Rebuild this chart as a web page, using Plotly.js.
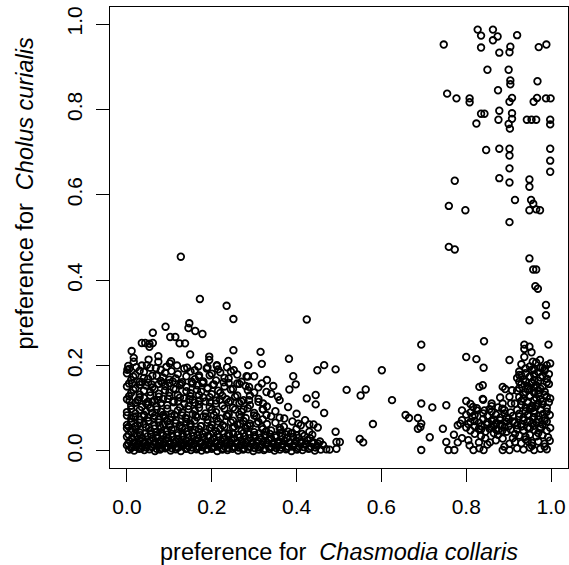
<!DOCTYPE html>
<html>
<head>
<meta charset="utf-8">
<script src="https://cdn.plot.ly/plotly-3.0.1.min.js"></script>
<style>html,body{margin:0;padding:0;background:#fff;}#chart{width:569px;height:565px;}</style>
</head>
<body>
<div id="chart"></div>
<script>
// Preference for Chasmodia collaris (x) vs preference for Cholus curialis (y)

// upper-right group
const upperRightX = [0.827,0.835,0.863,0.874,0.863,0.920,0.747,0.835,0.904,0.878,0.902,0.971,0.989,0.850,0.900,0.904,0.904,0.968,0.875,0.755,0.777,0.808,0.808,0.908,0.902,0.967,0.959,0.988,0.999,0.835,0.843,0.878,0.908,0.824,0.876,0.908,0.900,0.903,0.943,0.954,0.965,0.998,0.998,0.847,0.878,0.902,0.902,0.998,0.998,0.998,0.902,0.773,0.878,0.902,0.949,0.949,0.915,0.953,0.958,0.949,0.965,0.974,0.759,0.798,0.902,0.759,0.773,0.949,0.958,0.965,0.963,0.969,0.988,0.988,0.949];
const upperRightY = [0.987,0.973,0.987,0.971,0.962,0.974,0.952,0.945,0.947,0.933,0.934,0.946,0.952,0.893,0.893,0.868,0.859,0.866,0.845,0.837,0.826,0.826,0.817,0.827,0.818,0.827,0.818,0.826,0.826,0.790,0.790,0.797,0.791,0.767,0.776,0.778,0.766,0.755,0.776,0.776,0.776,0.776,0.765,0.705,0.708,0.708,0.692,0.708,0.680,0.654,0.662,0.633,0.639,0.629,0.636,0.619,0.588,0.588,0.579,0.564,0.566,0.564,0.574,0.564,0.536,0.478,0.472,0.451,0.425,0.425,0.386,0.380,0.342,0.318,0.306];

// right-hand sparse points (lower half)
const rightSparseX = [0.694,0.994,0.937,0.937,0.949,0.954,0.937,0.842,0.800,0.824,0.841,0.902,0.957,0.974,0.998,0.694,0.492,0.601,0.518,0.551,0.563,0.625,0.580,0.492,0.494,0.502,0.478,0.494,0.549,0.557,0.657,0.665,0.686,0.692,0.686,0.694,0.694,0.720,0.753,0.714,0.694,0.745,0.753,0.758,0.772,0.771,0.780,0.786,0.800,0.808,0.817,0.831,0.841,0.856,0.886,0.886,0.902,0.902,0.816,0.820,0.831,0.839,0.839,0.843,0.860,0.886,0.892,0.908,0.902,0.925,0.925,0.886,0.906,0.885];
const rightSparseY = [0.249,0.249,0.249,0.239,0.244,0.231,0.220,0.257,0.220,0.215,0.195,0.213,0.209,0.213,0.205,0.196,0.191,0.189,0.143,0.130,0.144,0.119,0.063,0.045,0.021,0.021,0.003,0.005,0.028,0.020,0.084,0.077,0.077,0.056,0.052,0.064,0.111,0.102,0.107,0.032,0.002,0.052,0.021,0.002,0.002,0.038,0.020,0.064,0.117,0.013,0.002,0.006,0.002,0.020,0.029,0.002,0.002,0.017,0.103,0.084,0.150,0.154,0.122,0.095,0.111,0.150,0.145,0.142,0.127,0.178,0.162,0.111,0.111,0.099];

// right-middle band
const rightBandX = [0.78,0.79,0.80,0.81,0.815,0.82,0.83,0.835,0.84,0.85,0.855,0.86,0.865,0.87,0.875,0.88,0.885,0.89,0.895,0.80,0.81,0.825,0.84,0.85,0.86,0.87,0.88,0.89,0.90,0.91,0.82,0.835,0.845,0.865,0.875,0.895,0.905,0.915,0.79,0.805,0.83,0.85,0.87,0.89,0.91,0.92,0.81,0.84,0.86,0.88,
 0.805,0.82,0.835,0.85,0.865,0.88,0.895,0.91,0.81,0.83,0.845,0.86,0.87,0.885,0.90,0.79,0.825,0.855,0.875,0.89,0.905];
const rightBandY = [0.060,0.072,0.055,0.068,0.080,0.058,0.066,0.050,0.075,0.062,0.052,0.070,0.058,0.065,0.048,0.072,0.060,0.055,0.068,0.085,0.090,0.095,0.088,0.082,0.092,0.085,0.078,0.088,0.075,0.082,0.040,0.035,0.030,0.042,0.038,0.045,0.050,0.040,0.030,0.025,0.020,0.015,0.025,0.010,0.030,0.060,0.110,0.120,0.105,0.125,
 0.063,0.070,0.058,0.067,0.074,0.061,0.078,0.069,0.048,0.052,0.045,0.056,0.050,0.047,0.058,0.095,0.100,0.098,0.102,0.096,0.090];

// right dense column
const rightColumnX = [0.93,0.95,0.965,0.98,0.99, 0.925,0.94,0.955,0.97,0.985,0.995, 0.92,0.935,0.95,0.96,0.975,0.99, 0.93,0.945,0.955,0.965,0.98,0.995, 0.92,0.94,0.95,0.96,0.97,0.985, 0.925,0.935,0.95,0.965,0.975,0.99,0.998, 0.915,0.93,0.945,0.955,0.97,0.98,0.995, 0.92,0.94,0.95,0.96,0.975,0.99, 0.925,0.935,0.945,0.96,0.97,0.985,0.997, 0.915,0.93,0.945,0.955,0.965,0.98,0.99, 0.92,0.935,0.95,0.96,0.975,0.99,0.998, 0.925,0.94,0.95,0.965,0.98,0.993, 0.915,0.93,0.945,0.955,0.97,0.985,0.997, 0.92,0.935,0.95,0.96,0.975,0.99,
 0.94,0.96,0.975,0.985, 0.93,0.95,0.96,0.98, 0.94,0.955,0.97,0.99, 0.925,0.945,0.96,0.975, 0.935,0.95,0.97,0.985, 0.93,0.945,0.96,0.98, 0.94,0.955,0.965,0.99, 0.925,0.945,0.96,0.98, 0.935,0.95,0.97,0.985, 0.93,0.945,0.96,0.975, 0.94,0.955,0.97,0.985];
const rightColumnY = [0.203,0.198,0.207,0.195,0.201, 0.186,0.182,0.190,0.184,0.188,0.180, 0.171,0.168,0.174,0.166,0.172,0.169, 0.156,0.152,0.158,0.154,0.150,0.157, 0.141,0.138,0.143,0.136,0.142,0.139, 0.126,0.122,0.128,0.124,0.121,0.127,0.123, 0.111,0.108,0.113,0.106,0.112,0.109,0.114, 0.096,0.093,0.098,0.094,0.097,0.092, 0.081,0.078,0.083,0.079,0.082,0.077,0.084, 0.066,0.063,0.068,0.064,0.067,0.062,0.069, 0.051,0.048,0.053,0.049,0.052,0.047,0.054, 0.036,0.033,0.038,0.034,0.037,0.032, 0.021,0.018,0.023,0.019,0.022,0.017,0.024, 0.006,0.003,0.008,0.002,0.005,0.004,
 0.193,0.190,0.195,0.192, 0.177,0.174,0.179,0.176, 0.162,0.160,0.164,0.161, 0.147,0.145,0.149,0.146, 0.132,0.130,0.134,0.131, 0.117,0.115,0.119,0.116, 0.102,0.100,0.104,0.101, 0.087,0.085,0.089,0.086, 0.072,0.070,0.074,0.071, 0.057,0.055,0.059,0.056, 0.027,0.012,0.042,0.010];

// lower-left sparse points
const leftSparseX = [0.127,0.172,0.235,0.251,0.424,0.147,0.145,0.161,0.178,0.061,0.091,0.102,0.114,0.124,0.137,0.035,0.043,0.053,0.061,0.053,0.011,0.149,0.251,0.315,0.318,0.382,0.449,0.465,0.016,0.016,0.001,0.035,0.051,0.074,0.074,0.104,0.101,0.194,0.194,0.212,0.239,0.252,0.286,0.392,0.398,0.383,0.345,0.329,0.356,0.318,0.288,0.288,0.282,0.424,0.445,0.445,0.465,0.380,0.371,0.404,0.430,0.362,0.380,0.321,0.321,0.329,0.275,0.267,0.290,0.306,0.328];
const leftSparseY = [0.455,0.356,0.340,0.309,0.308,0.299,0.288,0.281,0.274,0.277,0.291,0.267,0.267,0.252,0.252,0.253,0.253,0.251,0.253,0.244,0.234,0.226,0.236,0.232,0.204,0.216,0.189,0.201,0.218,0.209,0.190,0.200,0.214,0.222,0.209,0.210,0.205,0.221,0.213,0.201,0.211,0.189,0.201,0.175,0.156,0.144,0.152,0.138,0.127,0.158,0.150,0.119,0.175,0.123,0.131,0.109,0.089,0.103,0.076,0.064,0.062,0.050,0.045,0.111,0.097,0.084,0.097,0.064,0.064,0.064,0.046];

// lower-left mid block
const leftMidX = [0.00,0.02,0.04,0.07,0.09,0.12,0.15,0.17,0.20,0.22,0.26,0.30,
 0.01,0.03,0.05,0.08,0.10,0.13,0.16,0.18,0.21,0.24,0.27,0.33,
 0.00,0.02,0.045,0.06,0.09,0.11,0.14,0.165,0.19,0.23,0.25,0.28,0.31,
 0.01,0.03,0.055,0.075,0.10,0.12,0.15,0.175,0.20,0.22,0.26,0.30,0.34,
 0.00,0.025,0.04,0.065,0.085,0.11,0.135,0.155,0.18,0.21,0.235,0.27,0.31,0.36,
 0.01,0.035,0.05,0.07,0.095,0.125,0.145,0.17,0.195,0.225,0.25,0.29,0.33,
 0.00,0.02,0.045,0.06,0.08,0.105,0.13,0.16,0.185,0.21,0.24,0.27,0.30,0.35,0.40,
 0.01,0.03,0.05,0.075,0.09,0.115,0.14,0.165,0.19,0.22,0.25,0.28,0.32,0.36,0.42,
 0.00,0.02,0.04,0.065,0.085,0.10,0.125,0.15,0.175,0.20,0.23,0.26,0.29,0.33,0.37,0.41,0.44,
 0.01,0.03,0.055,0.07,0.095,0.12,0.14,0.16,0.185,0.21,0.24,0.27,0.30,0.34,0.39,0.43];
const leftMidY = [0.182,0.178,0.185,0.176,0.183,0.180,0.186,0.177,0.181,0.184,0.179,0.175,
 0.166,0.162,0.169,0.164,0.167,0.161,0.168,0.163,0.165,0.170,0.162,0.166,
 0.151,0.147,0.153,0.149,0.152,0.146,0.150,0.154,0.148,0.151,0.145,0.152,0.149,
 0.136,0.132,0.138,0.134,0.137,0.131,0.135,0.139,0.133,0.136,0.130,0.137,0.134,
 0.121,0.118,0.124,0.119,0.122,0.117,0.123,0.120,0.125,0.118,0.121,0.116,0.122,0.119,
 0.106,0.103,0.108,0.104,0.107,0.102,0.105,0.109,0.103,0.106,0.101,0.107,0.104,
 0.091,0.088,0.093,0.089,0.092,0.087,0.090,0.094,0.088,0.091,0.086,0.092,0.089,0.093,0.087,
 0.076,0.073,0.078,0.074,0.077,0.072,0.075,0.079,0.073,0.076,0.071,0.077,0.074,0.078,0.072,
 0.061,0.058,0.063,0.059,0.062,0.057,0.060,0.064,0.058,0.061,0.056,0.062,0.059,0.063,0.057,0.060,0.062,
 0.046,0.043,0.048,0.044,0.047,0.042,0.045,0.049,0.043,0.046,0.041,0.047,0.044,0.048,0.042,0.045];

// lower-left mid block, second layer
const leftMid2X = [0.005,0.03,0.055,0.08,0.105,0.135,0.16,0.19,0.215,0.245,
 0.015,0.04,0.06,0.085,0.115,0.14,0.17,0.195,0.23,0.285,
 0.005,0.03,0.05,0.075,0.10,0.125,0.155,0.18,0.205,0.24,0.265,
 0.015,0.04,0.065,0.09,0.115,0.14,0.165,0.19,0.215,0.245,0.285,
 0.005,0.03,0.055,0.075,0.10,0.125,0.15,0.17,0.195,0.225,0.255,0.29,
 0.02,0.045,0.06,0.08,0.11,0.135,0.16,0.185,0.21,0.24,0.265,0.31,
 0.01,0.03,0.055,0.07,0.095,0.12,0.145,0.17,0.20,0.23,0.255,0.285,0.32,
 0.00,0.02,0.04,0.065,0.085,0.105,0.13,0.155,0.18,0.205,0.235,0.265,0.30,0.34,
 0.01,0.03,0.05,0.075,0.095,0.115,0.14,0.16,0.19,0.215,0.245,0.275,0.31,0.35,0.39,
 0.00,0.02,0.045,0.065,0.08,0.105,0.13,0.15,0.17,0.195,0.22,0.25,0.28,0.32,0.36,0.40,0.45];
const leftMid2Y = [0.192,0.188,0.195,0.190,0.187,0.193,0.189,0.196,0.191,0.186,
 0.174,0.171,0.176,0.172,0.170,0.175,0.173,0.177,0.171,0.174,
 0.158,0.155,0.160,0.157,0.159,0.154,0.158,0.161,0.156,0.159,0.157,
 0.143,0.141,0.145,0.142,0.144,0.140,0.143,0.146,0.141,0.144,0.142,
 0.128,0.126,0.130,0.127,0.129,0.125,0.128,0.131,0.126,0.129,0.127,0.130,
 0.113,0.111,0.115,0.112,0.114,0.110,0.113,0.116,0.111,0.114,0.112,0.115,
 0.098,0.096,0.100,0.097,0.099,0.095,0.098,0.101,0.096,0.099,0.097,0.100,0.098,
 0.083,0.081,0.085,0.082,0.084,0.080,0.083,0.086,0.081,0.084,0.082,0.085,0.083,0.081,
 0.068,0.066,0.070,0.067,0.069,0.065,0.068,0.071,0.066,0.069,0.067,0.070,0.068,0.066,0.069,
 0.053,0.051,0.055,0.052,0.054,0.050,0.053,0.056,0.051,0.054,0.052,0.055,0.053,0.051,0.054,0.052,0.055];

// lower-left mid block, third layer
const leftMid3X = [0.003,0.022,0.047,0.068,0.093,0.118,0.142,0.168,0.188,0.212,0.236,
 0.012,0.036,0.058,0.083,0.108,0.128,0.153,0.178,0.203,0.228,0.26,
 0.006,0.027,0.049,0.072,0.097,0.121,0.147,0.171,0.196,0.219,0.244,0.275,
 0.016,0.041,0.063,0.087,0.112,0.138,0.162,0.186,0.211,0.237,0.268,0.305,
 0.004,0.025,0.052,0.077,0.101,0.124,0.149,0.174,0.199,0.226,0.253,0.284,0.318];
const leftMid3Y = [0.199,0.196,0.201,0.194,0.197,0.200,0.195,0.198,0.193,0.199,0.196,
 0.158,0.161,0.156,0.160,0.163,0.157,0.162,0.159,0.155,0.161,0.158,
 0.117,0.120,0.115,0.119,0.122,0.116,0.121,0.118,0.114,0.120,0.117,0.119,
 0.079,0.082,0.077,0.081,0.084,0.078,0.083,0.080,0.076,0.082,0.079,0.081,
 0.057,0.060,0.055,0.059,0.062,0.056,0.061,0.058,0.054,0.060,0.057,0.059,0.056];

// bottom band near zero
const bottomBandX = [0.000,0.012,0.025,0.036,0.048,0.061,0.072,0.085,0.097,0.108,0.121,0.133,0.145,0.157,0.169,0.181,0.193,0.205,0.217,0.229,0.241,0.253,0.266,0.278,0.290,0.302,0.315,0.327,0.340,0.352,0.365,0.378,0.392,0.405,0.418,0.432,
 0.006,0.018,0.030,0.042,0.054,0.066,0.079,0.091,0.102,0.115,0.127,0.139,0.151,0.163,0.175,0.187,0.199,0.211,0.223,0.235,0.247,0.259,0.272,0.284,0.296,0.309,0.321,0.334,0.346,0.358,0.371,0.385,0.398,0.411,0.425,0.440,0.455,
 0.000,0.012,0.024,0.036,0.048,0.060,0.073,0.085,0.096,0.109,0.121,0.133,0.145,0.157,0.170,0.182,0.194,0.206,0.218,0.230,0.242,0.255,0.267,0.279,0.291,0.303,0.316,0.328,0.341,0.353,0.366,0.380,0.393,0.406,0.420,0.434,0.448,0.462,
 0.005,0.017,0.029,0.041,0.053,0.066,0.078,0.090,0.103,0.115,0.127,0.139,0.151,0.164,0.176,0.188,0.200,0.213,0.225,0.237,0.249,0.262,0.274,0.286,0.298,0.311,0.323,0.336,0.348,0.361,0.375,0.388,0.401,0.414,0.428,0.443,0.457,0.470];
const bottomBandY = [0.033,0.030,0.035,0.031,0.034,0.029,0.032,0.036,0.030,0.033,0.028,0.034,0.031,0.035,0.029,0.032,0.034,0.030,0.033,0.031,0.035,0.029,0.032,0.034,0.030,0.033,0.031,0.035,0.029,0.032,0.034,0.030,0.033,0.031,0.035,0.030,
 0.023,0.020,0.025,0.021,0.024,0.019,0.022,0.026,0.020,0.023,0.018,0.024,0.021,0.025,0.019,0.022,0.024,0.020,0.023,0.021,0.025,0.019,0.022,0.024,0.020,0.023,0.021,0.025,0.019,0.022,0.024,0.020,0.023,0.021,0.025,0.020,0.022,
 0.013,0.010,0.015,0.011,0.014,0.009,0.012,0.016,0.010,0.013,0.008,0.014,0.011,0.015,0.009,0.012,0.014,0.010,0.013,0.011,0.015,0.009,0.012,0.014,0.010,0.013,0.011,0.015,0.009,0.012,0.014,0.010,0.013,0.011,0.015,0.010,0.012,0.014,
 0.003,0.001,0.005,0.002,0.004,0.000,0.003,0.006,0.001,0.004,0.000,0.005,0.002,0.004,0.001,0.003,0.005,0.000,0.003,0.002,0.005,0.001,0.003,0.004,0.000,0.003,0.002,0.005,0.001,0.003,0.004,0.000,0.003,0.002,0.005,0.001,0.003,0.004];

// bottom band, second layer
const bottomBand2X = [0.004,0.018,0.031,0.043,0.057,0.069,0.081,0.094,0.106,0.119,0.131,0.142,0.155,0.166,0.178,0.191,0.203,0.214,0.227,0.238,0.250,0.262,0.275,0.288,0.300,0.311,0.324,0.337,0.350,0.361,0.374,0.387,0.400,0.413,0.437,
 0.003,0.015,0.027,0.039,0.051,0.063,0.076,0.088,0.100,0.112,0.124,0.136,0.148,0.160,0.172,0.184,0.196,0.208,0.220,0.232,0.245,0.257,0.269,0.281,0.293,0.306,0.318,0.331,0.343,0.356,0.369,0.382,0.395,0.409,0.423,0.437,0.451,
 0.010,0.022,0.034,0.046,0.058,0.070,0.082,0.094,0.106,0.118,0.130,0.142,0.154,0.166,0.178,0.190,0.202,0.214,0.226,0.238,0.251,0.263,0.276,0.288,0.301,0.313,0.326,0.339,0.352,0.365,0.378,0.391,0.404,0.417,0.431,0.445];
const bottomBand2Y = [0.038,0.040,0.037,0.041,0.039,0.036,0.042,0.038,0.040,0.037,0.041,0.039,0.043,0.038,0.040,0.036,0.042,0.039,0.041,0.037,0.040,0.038,0.042,0.039,0.037,0.041,0.038,0.040,0.036,0.042,0.039,0.041,0.037,0.040,0.038,
 0.017,0.019,0.016,0.018,0.020,0.015,0.017,0.019,0.016,0.018,0.021,0.016,0.018,0.017,0.019,0.015,0.018,0.020,0.016,0.017,0.019,0.018,0.016,0.020,0.017,0.018,0.015,0.019,0.017,0.018,0.016,0.020,0.017,0.019,0.016,0.018,0.017,
 0.007,0.009,0.006,0.008,0.010,0.005,0.007,0.009,0.006,0.008,0.011,0.006,0.008,0.007,0.009,0.005,0.008,0.010,0.006,0.007,0.009,0.008,0.006,0.010,0.007,0.008,0.005,0.009,0.007,0.008,0.006,0.010,0.007,0.009,0.006,0.008];

const tickValues = [0, 0.2, 0.4, 0.6, 0.8, 1.0];
const tickLabels = ['0.0', '0.2', '0.4', '0.6', '0.8', '1.0'];

const groups = [
  [upperRightX, upperRightY], [rightSparseX, rightSparseY], [rightBandX, rightBandY],
  [rightColumnX, rightColumnY], [leftSparseX, leftSparseY], [leftMidX, leftMidY],
  [leftMid2X, leftMid2Y], [leftMid3X, leftMid3Y], [bottomBandX, bottomBandY], [bottomBand2X, bottomBand2Y]
];
const xs = [], ys = [];
groups.forEach(([gx, gy]) => {
  const n = Math.min(gx.length, gy.length);
  for (let i = 0; i < n; i++) { xs.push(gx[i]); ys.push(gy[i]); }
});

const FONT = '"Liberation Sans", Arial, Helvetica, sans-serif';

const trace = {
  type: 'scatter', mode: 'markers', x: xs, y: ys,
  marker: { symbol: 'circle-open', size: 6.6, color: '#000', line: { color: '#000', width: 1.8 } },
  hoverinfo: 'skip', showlegend: false
};

const axisCommon = {
  showgrid: false, zeroline: false, showline: true, mirror: true,
  linecolor: '#000', linewidth: 1, ticks: 'outside', ticklen: 13, tickwidth: 1, tickcolor: '#000',
  tickmode: 'array', tickvals: tickValues, ticktext: tickLabels,
  tickfont: { family: FONT, size: 21, color: '#000' }, range: [-0.04, 1.04], fixedrange: true
};

const layout = {
  width: 569, height: 565,
  margin: { l: 110, r: 1, t: 7, b: 97 },
  paper_bgcolor: '#fff', plot_bgcolor: '#fff',
  font: { family: FONT, color: '#000' },
  xaxis: Object.assign({}, axisCommon, { ticklabelstandoff: 7 }),
  yaxis: Object.assign({}, axisCommon, { tickangle: -90, ticklabelstandoff: 6 }),
  annotations: [
    { xref: 'paper', yref: 'paper', x: 0.5, y: -0.182, xanchor: 'center', yanchor: 'middle',
      text: 'preference for  <i>Chasmodia collaris</i>', showarrow: false,
      font: { family: FONT, size: 23.5, color: '#000' } },
    { xref: 'paper', yref: 'paper', x: -0.186, y: 0.595, xanchor: 'center', yanchor: 'middle',
      text: 'preference for  <i>Cholus curialis</i>', showarrow: false, textangle: -90,
      font: { family: FONT, size: 23.5, color: '#000' } }
  ]
};

Plotly.newPlot('chart', [trace], layout, { staticPlot: true, displayModeBar: false });
</script>
</body>
</html>
